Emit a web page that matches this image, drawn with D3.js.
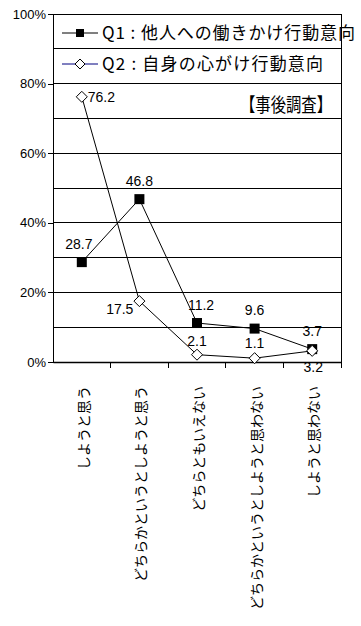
<!DOCTYPE html>
<html>
<head>
<meta charset="utf-8">
<script src="https://cdn.jsdelivr.net/npm/d3@7"></script>
<style>
  body { margin: 0; background: #fff; }
  svg { display: block; }
  .jp { font-family: "Noto Sans CJK JP", sans-serif; }
  .num { font-family: "Liberation Sans", Arial, sans-serif; }
</style>
</head>
<body>
<div id="chart"></div>
<script>
// データ
const categories = ['しようと思う', 'どちらかというとしようと思う', 'どちらともいえない', 'どちらかというとしようと思わない', 'しようと思わない'];
const q1Values = [28.7, 46.8, 11.2, 9.6, 3.7];
const q2Values = [76.2, 17.5, 2.1, 1.1, 3.2];
const seriesNames = ['Q1 : 他人への働きかけ行動意向', 'Q2 : 自身の心がけ行動意向'];
const yTicks = [0, 20, 40, 60, 80, 100];
const gridTicks = [10, 20, 30, 40, 50, 60, 70, 80, 90, 100];
const titleText = '【事後調査】';

// ラベルの位置 (dx, dy, anchor)
const q1LabelPos = [[-3, -13, 'middle'], [0, -13, 'middle'], [4, -13, 'middle'], [0, -14, 'middle'], [0, -13, 'middle']];
const q2LabelPos = [[6, 5, 'start'], [-6, 13, 'end'], [0, -9, 'middle'], [0, -10, 'middle'], [1, 21, 'middle']];

const W = 361, H = 626;
const plotLeft = 53, plotRight = 341, plotTop = 14, plotBottom = 362;

const svg = d3.select('#chart').append('svg')
    .attr('width', W)
    .attr('height', H);

const x = d3.scaleBand().domain(categories).range([plotLeft, plotRight]);
const y = d3.scaleLinear().domain([0, 100]).range([plotBottom, plotTop]);
const cx = d => x(d) + x.bandwidth() / 2;

// グリッド線
svg.append('g').selectAll('line')
    .data(gridTicks)
    .enter().append('line')
    .attr('x1', plotLeft).attr('x2', plotRight)
    .attr('y1', d => y(d)).attr('y2', d => y(d))
    .attr('stroke', '#000')
    .attr('stroke-width', 1)
    .attr('shape-rendering', 'crispEdges');

// 右の枠線
svg.append('line')
    .attr('x1', plotRight).attr('x2', plotRight)
    .attr('y1', plotTop).attr('y2', plotBottom)
    .attr('stroke', '#000')
    .attr('shape-rendering', 'crispEdges');

// Y軸
const yAxis = svg.append('g')
    .attr('transform', `translate(${plotLeft},0)`)
    .call(d3.axisLeft(y).tickValues(yTicks).tickFormat(d => d + '%').tickSize(5).tickSizeOuter(0).tickPadding(2));
yAxis.select('.domain').attr('stroke', '#000').attr('shape-rendering', 'crispEdges');
yAxis.selectAll('.tick line').attr('stroke', '#000').attr('shape-rendering', 'crispEdges');
yAxis.selectAll('text')
    .attr('class', 'num')
    .attr('font-size', 13)
    .attr('fill', '#000');

// X軸
const xAxis = svg.append('g')
    .attr('transform', `translate(0,${plotBottom})`)
    .call(d3.axisBottom(x).tickSize(0).tickSizeOuter(0));
xAxis.select('.domain').attr('stroke', '#000').attr('stroke-width', 1.5);
xAxis.selectAll('text')
    .attr('class', 'jp')
    .attr('font-size', 14)
    .attr('fill', '#000')
    .attr('transform', 'rotate(-90)')
    .attr('text-anchor', 'end')
    .attr('x', -24)
    .attr('y', 0)
    .attr('dy', '0.5em');

// 区切り目盛り
svg.append('g').selectAll('line')
    .data(categories)
    .enter().append('line')
    .attr('x1', d => x(d) + x.bandwidth()).attr('x2', d => x(d) + x.bandwidth())
    .attr('y1', plotBottom).attr('y2', plotBottom + 6)
    .attr('stroke', '#000')
    .attr('shape-rendering', 'crispEdges');

// 折れ線
const line = d3.line()
    .x((d, i) => cx(categories[i]))
    .y(d => y(d));

svg.append('path')
    .datum(q1Values)
    .attr('d', line)
    .attr('fill', 'none')
    .attr('stroke', '#000')
    .attr('stroke-width', 1);

svg.append('path')
    .datum(q2Values)
    .attr('d', line)
    .attr('fill', 'none')
    .attr('stroke', '#000')
    .attr('stroke-width', 1);

// マーカー
const diamond = (px, py, r) => `M${px},${py - r}L${px + r},${py}L${px},${py + r}L${px - r},${py}Z`;

svg.append('g').selectAll('rect')
    .data(q1Values)
    .enter().append('rect')
    .attr('x', (d, i) => cx(categories[i]) - 5)
    .attr('y', d => y(d) - 5)
    .attr('width', 10).attr('height', 10)
    .attr('fill', '#000');

svg.append('g').selectAll('path')
    .data(q2Values)
    .enter().append('path')
    .attr('d', (d, i) => diamond(cx(categories[i]), y(d), 5.5))
    .attr('fill', '#fff')
    .attr('stroke', '#000')
    .attr('stroke-width', 1);

// データラベル
function drawLabels(values, pos) {
    svg.append('g').selectAll('text')
        .data(values)
        .enter().append('text')
        .attr('class', 'num')
        .attr('font-size', 14)
        .attr('x', (d, i) => cx(categories[i]) + pos[i][0])
        .attr('y', (d, i) => y(d) + pos[i][1])
        .attr('text-anchor', (d, i) => pos[i][2])
        .attr('fill', '#000')
        .text(d => d.toFixed(1));
}
drawLabels(q1Values, q1LabelPos);
drawLabels(q2Values, q2LabelPos);

// 凡例
const legend = svg.append('g');
const legendY = [33, 64];
const legendLen = [253, 221];
legend.append('line').attr('x1', 62).attr('x2', 98).attr('y1', legendY[0]).attr('y2', legendY[0]).attr('stroke', '#000');
legend.append('rect').attr('x', 76).attr('y', legendY[0] - 4).attr('width', 8).attr('height', 8).attr('fill', '#000');
legend.append('line').attr('x1', 62).attr('x2', 98).attr('y1', legendY[1]).attr('y2', legendY[1]).attr('stroke', '#000080');
legend.append('path').attr('d', diamond(80, legendY[1], 5)).attr('fill', '#fff').attr('stroke', '#000');

legend.selectAll('text')
    .data(seriesNames)
    .enter().append('text')
    .attr('class', 'jp')
    .attr('font-size', 17)
    .attr('x', 102)
    .attr('y', (d, i) => legendY[i])
    .attr('dy', '0.36em')
    .attr('textLength', (d, i) => legendLen[i])
    .attr('lengthAdjust', 'spacing')
    .attr('fill', '#000')
    .text(d => d);

// タイトル
svg.append('text')
    .attr('class', 'jp')
    .attr('font-size', 19)
    .attr('x', 240)
    .attr('y', 105)
    .attr('dy', '0.36em')
    .attr('textLength', 92)
    .attr('lengthAdjust', 'spacingAndGlyphs')
    .attr('fill', '#000')
    .text(titleText);
</script>
</body>
</html>
